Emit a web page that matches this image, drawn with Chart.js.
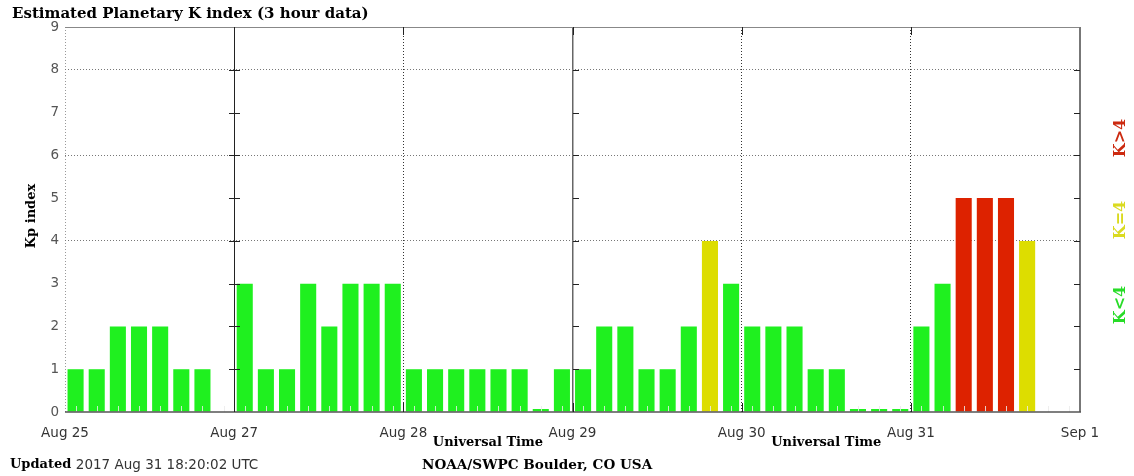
<!DOCTYPE html>
<html>
<head>
<meta charset="utf-8">
<script src="https://cdn.jsdelivr.net/npm/chart.js@4"></script>
<style>
  html, body { margin: 0; padding: 0; background: #fff; }
  canvas { display: block; }
</style>
</head>
<body>
<canvas id="kp" width="1134" height="476"></canvas>
<script>
// Day boundary labels along the time axis
const dayTicks = ['Aug 25', 'Aug 27', 'Aug 28', 'Aug 29', 'Aug 30', 'Aug 31', 'Sep 1'];
// 3-hour intervals inside each day
const hours = ['00', '03', '06', '09', '12', '15', '18', '21'];
// Kp values, eight 3-hour intervals per day (null = not yet available)
const kpDay1 = [1, 1, 2, 2, 2, 1, 1, null];
const kpDay2 = [3, 1, 1, 3, 2, 3, 3, 3];
const kpDay3 = [1, 1, 1, 1, 1, 1, 0, 1];
const kpDay4 = [1, 2, 2, 1, 1, 2, 4, 3];
const kpDay5 = [2, 2, 2, 1, 1, 0, 0, 0];
const kpDay6 = [2, 3, 5, 5, 5, 4, null, null];
// Kp axis ticks
const kpTicks = [0, 1, 2, 3, 4, 5, 6, 7, 8, 9];

const kpDays = [kpDay1, kpDay2, kpDay3, kpDay4, kpDay5, kpDay6];
const slotLabels = [];
const kpValues = [];
kpDays.forEach((day, d) => {
  day.forEach((v, h) => {
    slotLabels.push(dayTicks[d] + ' ' + hours[h]);
    kpValues.push(v);
  });
});

const GREEN = '#1ff01f', YELLOW = '#dddd00', RED = '#dd2200';
const serifBold = 'bold 13px "DejaVu Serif"';
const sans = '13.5px "DejaVu Sans"';

const decor = {
  id: 'decor',
  afterDatasetsDraw(chart) {
    const { ctx, chartArea: a } = chart;
    const xs = chart.scales.x, xd = chart.scales.xDays, y = chart.scales.y;
    ctx.save();
    // small interval marks at the foot of every slot
    ctx.strokeStyle = 'rgba(235,235,235,0.85)';
    ctx.lineWidth = 1;
    for (let i = 0; i < slotLabels.length; i++) {
      const px = Math.round(xs.getPixelForValue(i)) + 0.5;
      ctx.beginPath(); ctx.moveTo(px, a.bottom); ctx.lineTo(px, a.bottom - 6); ctx.stroke();
    }
    // plot frame (left edge is the dotted day line)
    ctx.strokeStyle = '#888';
    ctx.lineWidth = 1;
    ctx.beginPath(); ctx.moveTo(a.left, a.top + 0.5); ctx.lineTo(a.right, a.top + 0.5); ctx.stroke();
    ctx.strokeStyle = '#777';
    ctx.lineWidth = 2;
    ctx.beginPath(); ctx.moveTo(a.right, a.top); ctx.lineTo(a.right, a.bottom); ctx.stroke();
    ctx.strokeStyle = '#555';
    ctx.lineWidth = 1.5;
    ctx.beginPath(); ctx.moveTo(a.left, a.bottom); ctx.lineTo(a.right + 1, a.bottom); ctx.stroke();
    // Kp tick marks on the solid day lines and the right edge
    ctx.lineWidth = 1;
    ctx.strokeStyle = '#222';
    const d1 = Math.round(xd.getPixelForValue(1)), d3 = Math.round(xd.getPixelForValue(3));
    for (let k = 1; k < kpTicks.length - 1; k++) {
      const py = Math.round(y.getPixelForValue(kpTicks[k])) + 0.5;
      ctx.beginPath();
      ctx.moveTo(d1 - 5, py); ctx.lineTo(d1 + 6, py);
      ctx.moveTo(d3, py); ctx.lineTo(d3 + 6, py);
      ctx.moveTo(a.right - 6, py); ctx.lineTo(a.right, py);
      ctx.stroke();
    }
    // day tick marks along top and bottom
    for (let d = 1; d < dayTicks.length - 1; d++) {
      const px = Math.round(xd.getPixelForValue(d)) + 0.5;
      ctx.beginPath();
      ctx.moveTo(px, a.top); ctx.lineTo(px, a.top + 8);
      ctx.moveTo(px, a.bottom); ctx.lineTo(px, a.bottom - 9);
      ctx.stroke();
    }
    ctx.restore();
  },
  afterDraw(chart) {
    const { ctx } = chart;
    const xd = chart.scales.xDays;
    ctx.save();
    ctx.fillStyle = '#000';
    ctx.textBaseline = 'middle';
    ctx.font = 'bold 15px "DejaVu Serif"';
    ctx.textAlign = 'left';
    ctx.fillText('Estimated Planetary K index (3 hour data)', 12, 14);

    ctx.font = serifBold;
    ctx.textAlign = 'center';
    ctx.fillText('Universal Time', xd.getPixelForValue(2.5), 443);
    ctx.fillText('Universal Time', xd.getPixelForValue(4.5), 443);

    ctx.textAlign = 'left';
    ctx.fillText('Updated', 10, 465);
    const w = ctx.measureText('Updated ').width;
    ctx.font = sans;
    ctx.fillStyle = '#333';
    ctx.fillText('2017 Aug 31 18:20:02 UTC', 10 + w, 465);

    ctx.font = 'bold 13.6px "DejaVu Serif"';
    ctx.fillStyle = '#000';
    ctx.fillText('NOAA/SWPC Boulder, CO USA', 422, 465);

    // rotated labels
    const rot = (text, x, yy, color, font) => {
      ctx.save();
      ctx.translate(x, yy);
      ctx.rotate(-Math.PI / 2);
      ctx.textAlign = 'center';
      ctx.fillStyle = color;
      ctx.font = font;
      ctx.fillText(text, 0, 0);
      ctx.restore();
    };
    rot('Kp index', 32, 216, '#000', serifBold);
    const keyFont = 'bold 16px "DejaVu Serif"';
    rot('K>4', 1121, 138, '#cc2a10', keyFont);
    rot('K=4', 1121, 220, '#dada20', keyFont);
    rot('K<4', 1121, 305, '#28dc28', keyFont);
    ctx.restore();
  }
};

new Chart(document.getElementById('kp'), {
  type: 'bar',
  data: {
    labels: slotLabels,
    datasets: [{
      data: kpValues,
      backgroundColor: c => {
        const v = c.raw;
        return v > 4 ? RED : (v === 4 ? YELLOW : GREEN);
      },
      borderWidth: 0,
      categoryPercentage: 1,
      barPercentage: 0.76,
      minBarLength: 3,
      xAxisID: 'x',
      yAxisID: 'y'
    }]
  },
  options: {
    responsive: false,
    animation: false,
    events: [],
    layout: { padding: { left: 0, top: 27, right: 54, bottom: 0 } },
    plugins: { legend: { display: false }, tooltip: { enabled: false }, title: { display: false } },
    scales: {
      x: {
        type: 'category',
        display: false
      },
      xDays: {
        type: 'linear',
        position: 'bottom',
        min: 0,
        max: dayTicks.length - 1,
        offset: false,
        afterFit: s => { s.height = 64; },
        afterBuildTicks: s => { s.ticks = dayTicks.map((_, i) => ({ value: i })); },
        ticks: {
          autoSkip: false,
          maxRotation: 0,
          padding: 13,
          color: '#333',
          font: { family: 'DejaVu Sans', size: 13.5 },
          callback: (v) => dayTicks[v]
        },
        border: { display: false, dash: [1, 2] },
        grid: {
          offset: false,
          drawTicks: false,
          lineWidth: 1,
          color: c => {
            const i = c.index;
            if (i === 0) return '#999';
            return (i === 2 || i === 4 || i === 5) ? '#333' : 'rgba(0,0,0,0)';
          }
        }
      },
      xSolid: {
        type: 'linear',
        position: 'bottom',
        min: 0,
        max: dayTicks.length - 1,
        offset: false,
        afterFit: s => { s.height = 0; },
        afterBuildTicks: s => { s.ticks = dayTicks.map((_, i) => ({ value: i })); },
        ticks: { display: false },
        border: { display: false },
        grid: {
          offset: false,
          drawTicks: false,
          lineWidth: c => (c.index === 3 ? 1.5 : 1),
          color: c => (c.index === 1 ? '#222' : (c.index === 3 ? '#666' : 'rgba(0,0,0,0)'))
        }
      },
      y: {
        type: 'linear',
        min: 0,
        max: 9,
        afterFit: s => { s.width = 65; },
        afterBuildTicks: s => { s.ticks = kpTicks.map(v => ({ value: v })); },
        ticks: {
          padding: 6,
          color: '#555',
          font: { family: 'DejaVu Sans', size: 13.5 }
        },
        border: { display: false, dash: [1, 2] },
        grid: {
          drawTicks: false,
          color: c => ([4, 6, 8].includes(c.tick.value) ? '#777' : 'rgba(0,0,0,0)')
        }
      }
    }
  },
  plugins: [decor]
});
</script>
</body>
</html>
